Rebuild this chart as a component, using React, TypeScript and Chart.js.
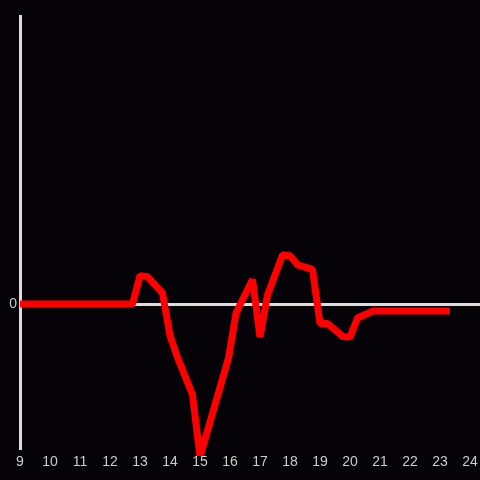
import React, { useEffect, useRef } from "react";
import { Chart, registerables } from "chart.js";

Chart.register(...registerables);

const hours = [9, 12.75, 13, 13.25, 13.75, 14, 14.25, 14.75, 15, 15.5, 15.95, 16.2, 16.75, 17, 17.25, 17.75, 18, 18.25, 18.75, 19, 19.25, 19.75, 20, 20.25, 20.75, 23.33];
const values = [0, 0, 1.97, 1.9, 0.76, -2.2, -3.7, -6.3, -10.6, -7.0, -3.75, -0.63, 1.7, -2.3, 0.63, 3.4, 3.35, 2.72, 2.4, -1.35, -1.35, -2.25, -2.3, -0.97, -0.49, -0.49];
const xTicks = [9, 10, 11, 12, 13, 14, 15, 16, 17, 18, 19, 20, 21, 22, 23, 24];
const yTicks = [0];

export default function App() {
  const ref = useRef<HTMLCanvasElement>(null);
  useEffect(() => {
    const ctx = ref.current!;
    const chart = new Chart(ctx, {
      type: "line",
      data: {
        datasets: [
          {
            data: hours.map((h, i) => ({ x: h, y: values[i] })),
            borderColor: "#ff0000",
            borderWidth: 7,
            borderJoinStyle: "bevel",
            pointRadius: 0,
            tension: 0,
            fill: false,
            clip: { left: 4, top: 4, right: 4, bottom: 8 } as any,
          },
        ],
      },
      options: {
        animation: false,
        responsive: false,
        layout: { padding: { top: 16, left: 0, right: 0, bottom: 0 } },
        plugins: { legend: { display: false }, tooltip: { enabled: false } },
        scales: {
          x: {
            type: "linear",
            min: 9,
            max: 24.333,
            afterBuildTicks: (s: any) => {
              s.ticks = xTicks.map((v) => ({ value: v }));
            },
            afterFit: (s: any) => {
              s.height = 32;
              s.paddingLeft = 0;
              s.paddingRight = 0;
            },
            grid: { display: false, drawTicks: false },
            border: { display: false },
            ticks: {
              color: "#cccccc",
              padding: 6,
              maxRotation: 0,
              autoSkip: false,
              font: { family: "'Liberation Sans', Arial, sans-serif", size: 14 },
            },
          },
          y: {
            type: "linear",
            min: -10,
            max: 20,
            afterBuildTicks: (s: any) => {
              s.ticks = yTicks.map((v) => ({ value: v }));
            },
            afterFit: (s: any) => {
              s.width = 20;
              s.paddingTop = 0;
              s.paddingBottom = 0;
            },
            grid: { color: "#dddddd", lineWidth: 3, drawTicks: false },
            border: { display: true, color: "#dddddd", width: 3 },
            ticks: {
              color: "#cccccc",
              padding: 3,
              font: { family: "'Liberation Sans', Arial, sans-serif", size: 14 },
            },
          },
        },
      },
    });
    return () => chart.destroy();
  }, []);
  return (
    <div style={{ position: "fixed", left: 0, top: 0, width: 480, height: 480, background: "#050307" }}>
      <canvas ref={ref} width={480} height={480} style={{ display: "block" }} />
    </div>
  );
}
